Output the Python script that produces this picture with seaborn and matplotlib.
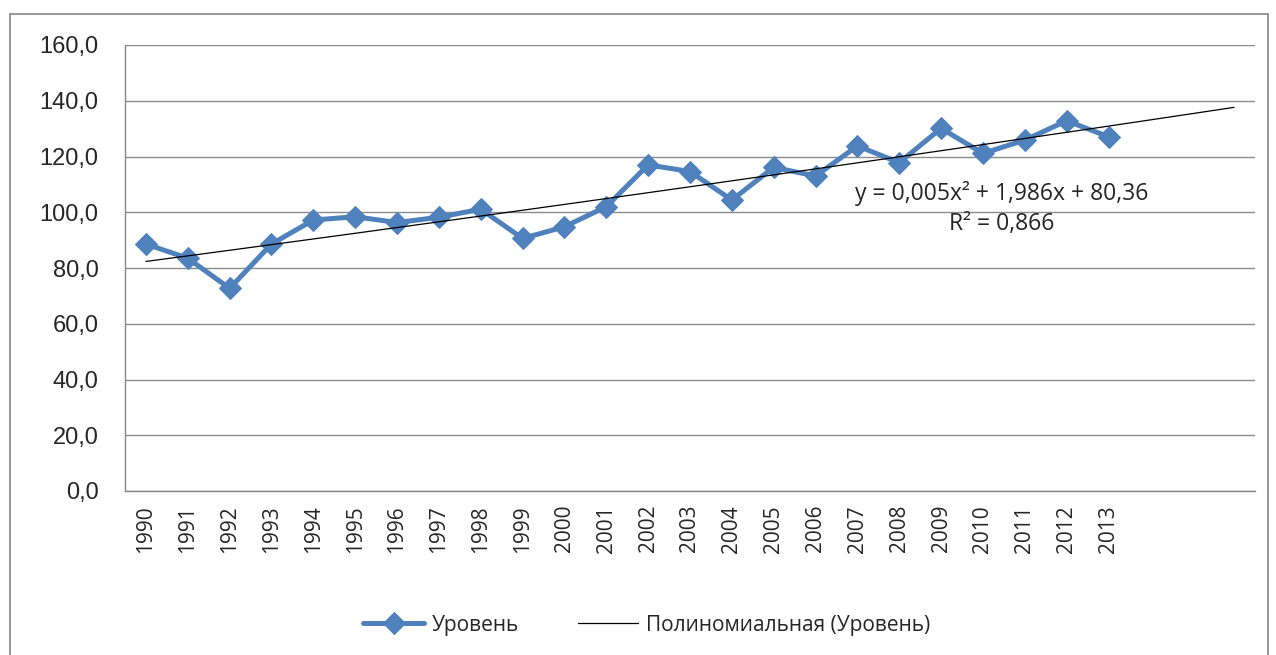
import numpy as np
import pandas as pd
import matplotlib
matplotlib.use("Agg")
import matplotlib.pyplot as plt
from matplotlib.patches import Rectangle
import seaborn as sns

years = [str(y) for y in range(1990, 2014)]
level = [88.6, 83.5, 72.7, 88.6, 97.2, 98.4, 96.3, 98.2, 101.1, 90.6, 94.8, 102.0,
         117.0, 114.6, 104.4, 116.1, 113.0, 123.8, 117.8, 130.1, 121.1, 125.9, 132.8, 127.1]
forecast_periods = 3
trend_coef = [0.005, 1.986, 80.36]  # quadratic trend shown on the chart

sns.set_style("white")
plt.rcParams['font.family'] = ['Open Sans', 'DejaVu Sans']

n_cat = len(years) + forecast_periods
df = pd.DataFrame({"pos": np.arange(len(years)), "level": level})
t = np.arange(1, n_cat + 1)
trend = np.polyval(trend_coef, t)
df_trend = pd.DataFrame({"pos": t - 1, "trend": trend})

fig = plt.figure(figsize=(12.76, 6.55), dpi=100)
ax = fig.add_axes([125 / 1276, 1 - 491 / 655, (1255 - 125) / 1276, (491 - 45) / 655])

blue = "#4F81BD"
sns.lineplot(data=df, x="pos", y="level", ax=ax, color=blue, linewidth=3.6,
             marker="D", markersize=11, markeredgecolor=blue, label="Уровень")
sns.lineplot(data=df_trend, x="pos", y="trend", ax=ax, color="black", linewidth=0.9,
             label="Полиномиальная (Уровень)")

ax.set_xlim(-0.5, n_cat - 0.5)
ax.set_ylim(0, 160)
ax.set_yticks(np.arange(0, 161, 20))
ax.set_yticklabels([f"{v:.1f}".replace(".", ",") for v in np.arange(0, 161, 20)],
                   fontsize=17, family=["Liberation Sans", "DejaVu Sans"])
ax.set_xticks(np.arange(len(years)))
ax.set_xticklabels(years, rotation=90, fontsize=15)
ax.set_xticks(np.arange(-0.5, n_cat, 1), minor=True)
ax.tick_params(axis="x", which="major", length=0, pad=10)
ax.tick_params(axis="x", which="minor", length=6, color="#868686", width=1)
ax.tick_params(axis="y", length=6, color="#868686", width=1, pad=13)
ax.grid(axis="y", color="#8c8c8c", linewidth=1)
ax.set_xlabel("")
ax.set_ylabel("")
for side in ["top", "right"]:
    ax.spines[side].set_visible(False)
for side in ["left", "bottom"]:
    ax.spines[side].set_color("#868686")
    ax.spines[side].set_linewidth(1)

ax.text(20.45, 106.9, "y = 0,005x² + 1,986x + 80,36", fontsize=16.5, ha="center", va="center")
ax.text(20.45, 95.8, "R² = 0,866", fontsize=16.5, ha="center", va="center")

ax.legend(loc="center", bbox_to_anchor=(647 / 1276, 1 - 625 / 655), bbox_transform=fig.transFigure,
          ncol=2, frameon=False, fontsize=15, handlelength=2.9, handletextpad=0.4,
          columnspacing=2.8)

fig.patches.append(Rectangle((10 / 1276, -0.1), 1258 / 1276, 1.1 - 14 / 655,
                             transform=fig.transFigure, fill=False, edgecolor="#868686",
                             linewidth=1.2))

fig.savefig("out.png", dpi=100)
